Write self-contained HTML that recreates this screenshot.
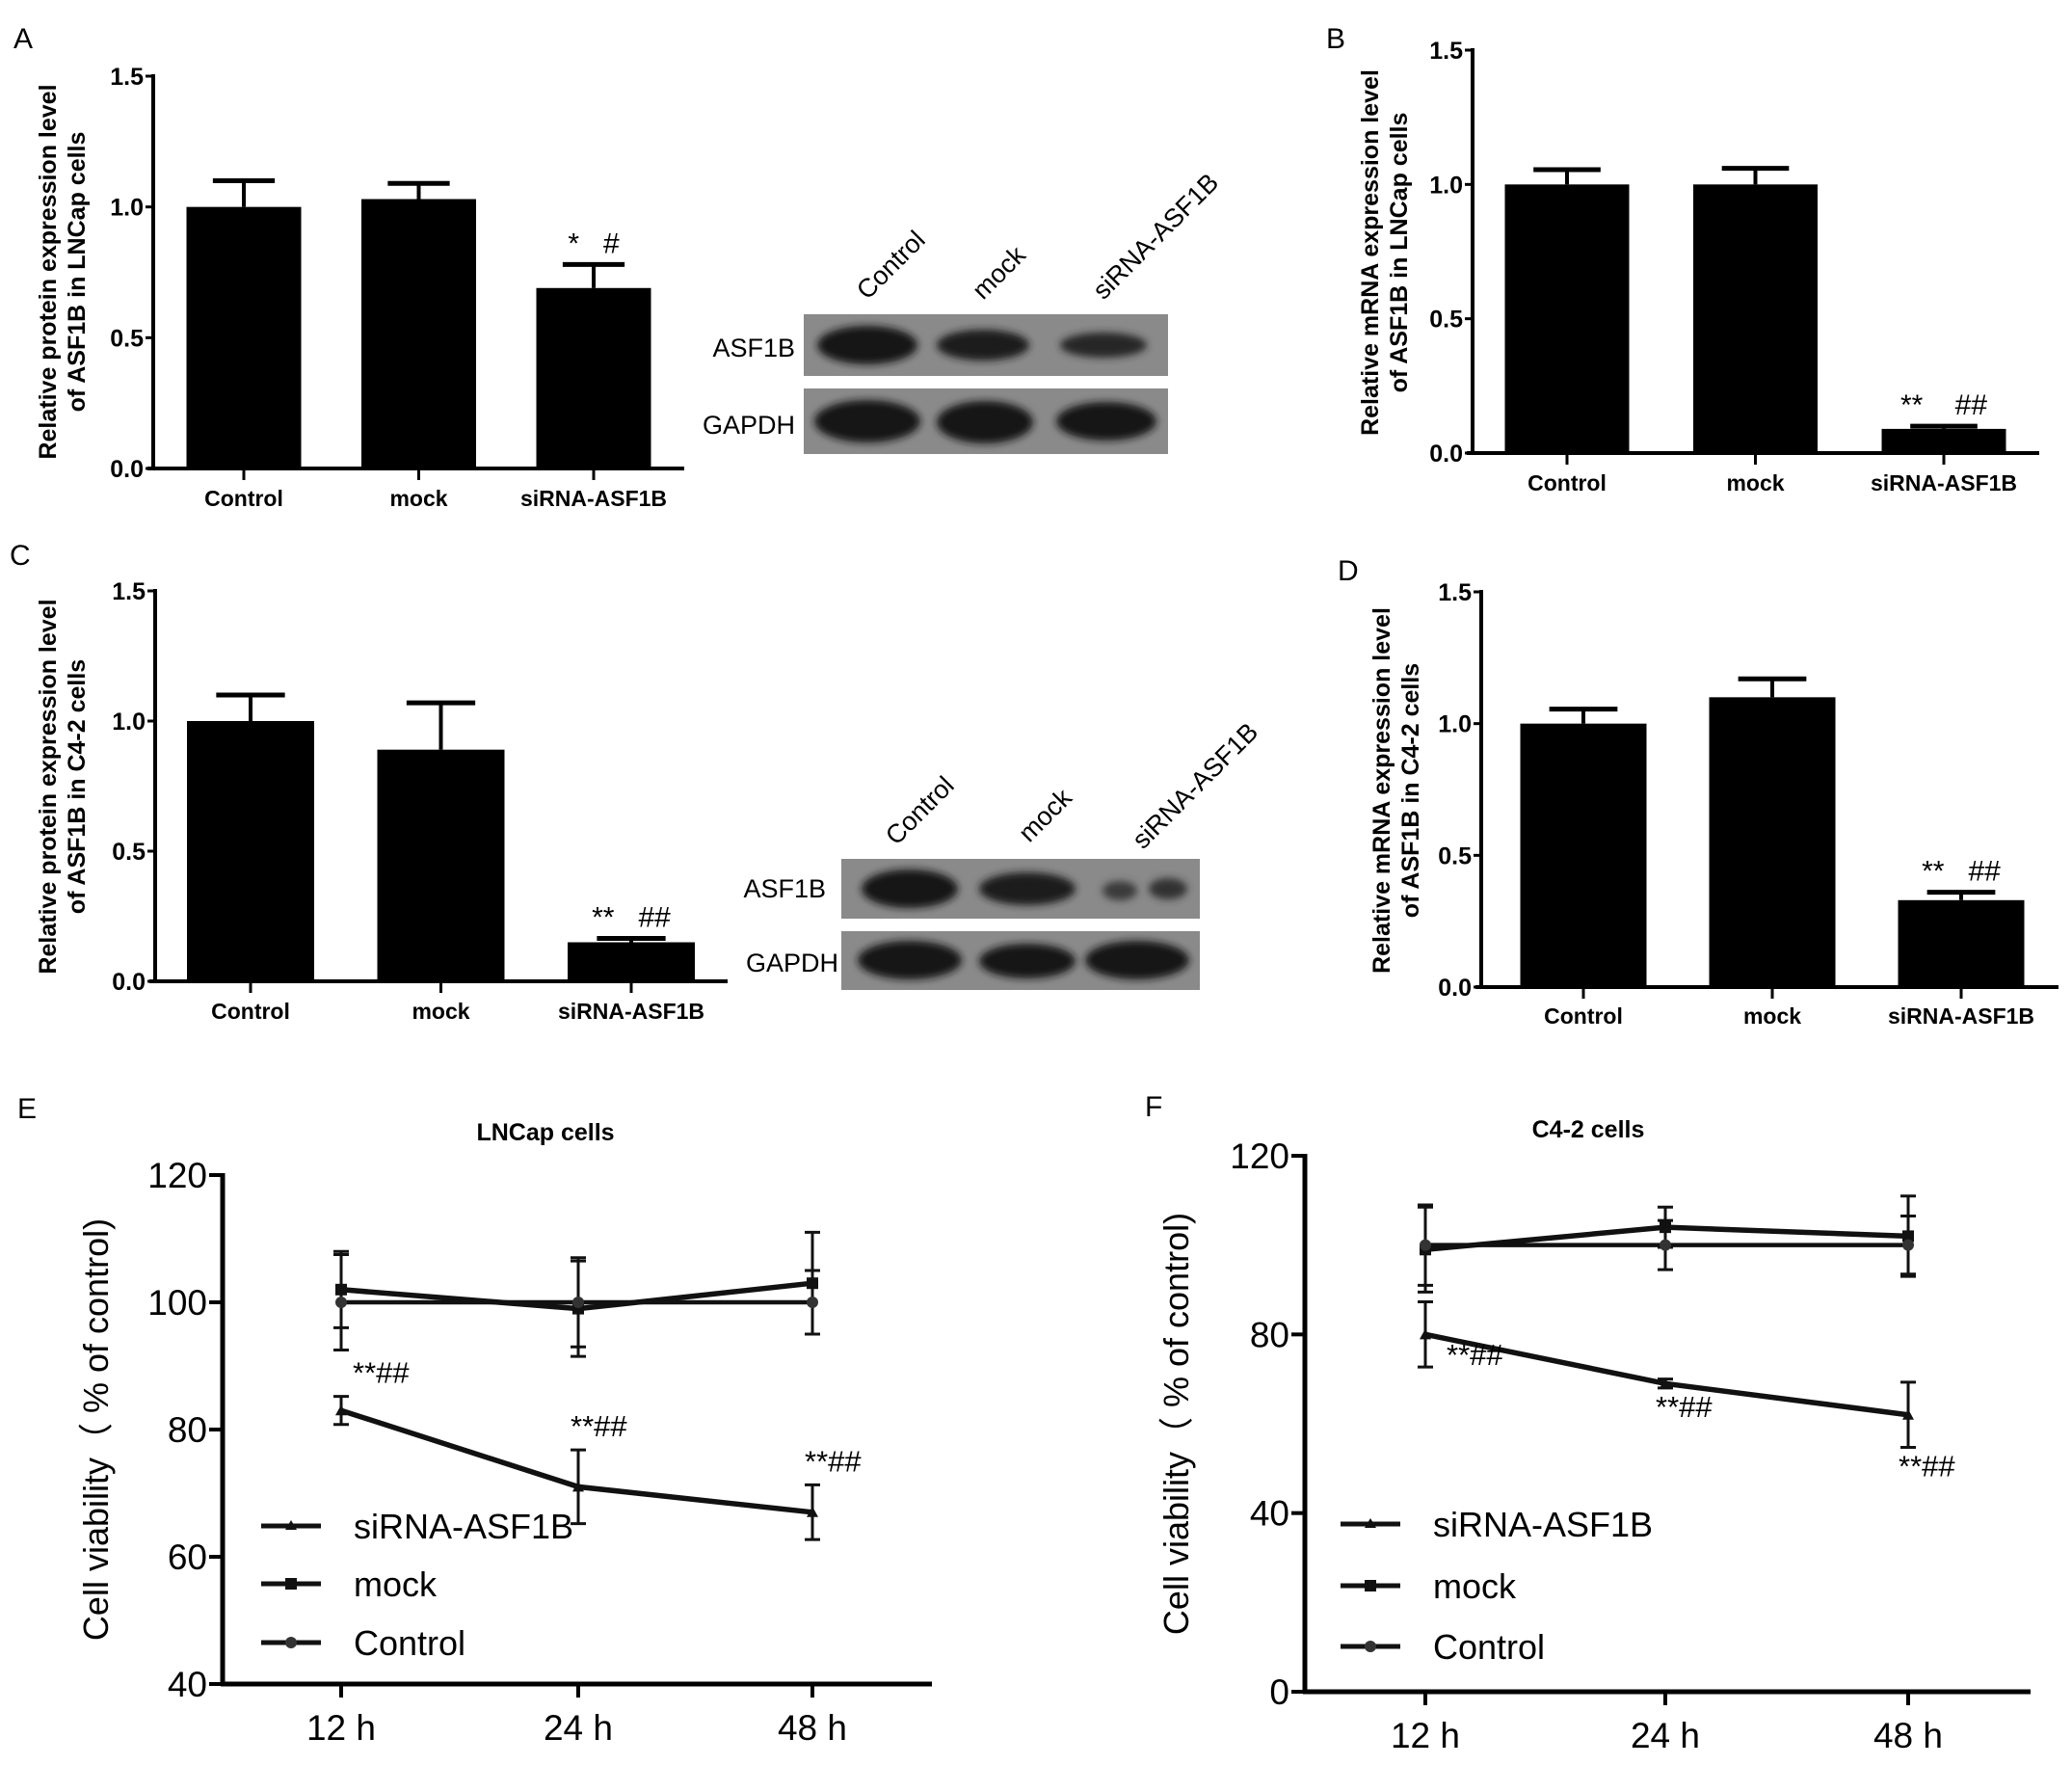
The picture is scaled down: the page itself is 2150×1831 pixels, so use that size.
<!DOCTYPE html>
<html><head><meta charset="utf-8"><style>
html,body{margin:0;padding:0;background:#fff}
svg{display:block}
text{font-family:"Liberation Sans",Arial,sans-serif}
</style></head><body>
<svg id="fig" width="2150" height="1831" viewBox="0 0 2150 1831" xmlns="http://www.w3.org/2000/svg">
<defs><filter id="blur" x="-20%" y="-50%" width="140%" height="200%"><feGaussianBlur stdDeviation="4"/></filter></defs>
<rect width="2150" height="1831" fill="#fff"/>
<text x="14" y="50" font-size="30">A</text>
<text x="1376" y="50" font-size="30">B</text>
<text x="10" y="586" font-size="30">C</text>
<text x="1388" y="602" font-size="30">D</text>
<text x="18" y="1160" font-size="30">E</text>
<text x="1188" y="1158" font-size="30">F</text>

<!-- Western blot A -->
<g>
<rect x="834" y="326" width="378" height="64" fill="#8a8a8a"/>
<rect x="834" y="403" width="378" height="68" fill="#8a8a8a"/>
<g filter="url(#blur)">
<ellipse cx="900" cy="358" rx="52" ry="20" fill="#151515"/>
<ellipse cx="1020" cy="358" rx="48" ry="16" fill="#1a1a1a"/>
<ellipse cx="1145" cy="358" rx="45" ry="13" fill="#262626"/>
<ellipse cx="900" cy="437" rx="55" ry="22" fill="#121212"/>
<ellipse cx="1022" cy="438" rx="50" ry="22" fill="#141414"/>
<ellipse cx="1148" cy="437" rx="52" ry="20" fill="#161616"/>
</g>
<text x="825" y="370" font-size="27" text-anchor="end">ASF1B</text>
<text x="825" y="450" font-size="27" text-anchor="end">GAPDH</text>
<text transform="translate(900,312) rotate(-45)" font-size="27">Control</text>
<text transform="translate(1020,312) rotate(-45)" font-size="27">mock</text>
<text transform="translate(1145,312) rotate(-45)" font-size="27">siRNA-ASF1B</text>
</g>
<!-- Western blot C -->
<g>
<rect x="873" y="891" width="372" height="62" fill="#8a8a8a"/>
<rect x="873" y="966" width="372" height="61" fill="#8a8a8a"/>
<g filter="url(#blur)">
<ellipse cx="944" cy="922" rx="50" ry="20" fill="#151515"/>
<ellipse cx="1066" cy="922" rx="50" ry="17" fill="#1e1e1e"/>
<ellipse cx="1162" cy="924" rx="18" ry="10" fill="#3a3a3a"/>
<ellipse cx="1212" cy="922" rx="20" ry="11" fill="#333"/>
<ellipse cx="944" cy="996" rx="54" ry="20" fill="#121212"/>
<ellipse cx="1066" cy="997" rx="50" ry="18" fill="#151515"/>
<ellipse cx="1180" cy="996" rx="54" ry="20" fill="#141414"/>
</g>
<text x="857" y="931" font-size="27" text-anchor="end">ASF1B</text>
<text x="870" y="1008" font-size="27" text-anchor="end">GAPDH</text>
<text transform="translate(930,878) rotate(-45)" font-size="27">Control</text>
<text transform="translate(1068,875) rotate(-45)" font-size="27">mock</text>
<text transform="translate(1186,882) rotate(-45)" font-size="27">siRNA-ASF1B</text>
</g>
</svg>
<script>
// ---- bar data ----
const barCategories = ["Control","mock","siRNA-ASF1B"];
const barTicks = [0.0,0.5,1.0,1.5];
const valuesA = [1.0,1.03,0.69];
const errorsA = [0.10,0.06,0.09];
const valuesB = [1.0,1.0,0.09];
const errorsB = [0.055,0.06,0.01];
const valuesC = [1.0,0.89,0.15];
const errorsC = [0.10,0.18,0.015];
const valuesD = [1.0,1.10,0.33];
const errorsD = [0.055,0.07,0.03];
const sigA = ["","","*   #"];
const sigB = ["","","**    ##"];
const sigC = ["","","**   ##"];
const sigD = ["","","**   ##"];
// ---- line data ----
const timeLabels = ["12 h","24 h","48 h"];
const ticksE = [40,60,80,100,120];
const ticksF = [0,40,80,120];
const seriesNames = ["siRNA-ASF1B","mock","Control"];
const sirnaE = [83,71,67];
const sirnaErrE = [2.2,5.8,4.3];
const mockE = [102,99,103];
const mockErrE = [6,7.5,8];
const controlE = [100,100,100];
const controlErrE = [7.5,7,5];
const sirnaF = [80,69,62];
const sirnaErrF = [7.3,1,7.3];
const mockF = [99,104,102];
const mockErrF = [9.5,4.5,9];
const controlF = [100,100,100];
const controlErrF = [9,5.5,6.5];
const sigE = ["**##","**##","**##"];

const NS="http://www.w3.org/2000/svg";
const svg=document.getElementById('fig');
function mk(tag,attrs,parent){const e=document.createElementNS(NS,tag);for(const k in attrs)e.setAttribute(k,attrs[k]);(parent||svg).appendChild(e);return e;}

function barChart(cfg,values,errors,sig){
  const g=mk('g',{});
  
  
  const y=v=>cfg.y0+(cfg.y1-cfg.y0)*(v/1.5);
  const bw=cfg.bw;
  const cx=i=>cfg.c0+i*cfg.step;
  values.forEach((v,i)=>{
    const top=y(v+errors[i]);
    const l=mk('line',{x1:cx(i),x2:cx(i),y1:y(v),y2:top,stroke:'#000','stroke-width':4},g);
    
    
    const c=mk('line',{x1:cx(i)-bw*0.27,x2:cx(i)+bw*0.27,y1:top,y2:top,stroke:'#000','stroke-width':5},g);
    
    
    const r=mk('rect',{x:cx(i)-bw/2,y:y(v),width:bw,height:cfg.y0-y(v),fill:'#000'},g);
    
    
    if(sig[i]){const t=mk('text',{x:cx(i),y:top-12,'font-size':30,'text-anchor':'middle','xml:space':'preserve'},g);t.textContent=sig[i];
      t.style.whiteSpace='pre';
      
      }
    const tk=mk('line',{x1:cx(i),x2:cx(i),y1:cfg.y0,y2:cfg.y0+12,stroke:'#000','stroke-width':3},g);
    
    
    const lb=mk('text',{x:cx(i),y:cfg.ly,'font-size':23,'font-weight':'bold','text-anchor':'middle'},g);
    lb.textContent=barCategories[i];
    
    
  });
  const ax=mk('line',{x1:cfg.ax,x2:cfg.ax,y1:cfg.y1-2,y2:cfg.y0+2,stroke:'#000','stroke-width':4},g);
  
  
  const xx=mk('line',{x1:cfg.ax-6,x2:cfg.xe,y1:cfg.y0,y2:cfg.y0,stroke:'#000','stroke-width':4},g);
  
  
  barTicks.forEach(t=>{
    mk('line',{x1:cfg.ax-8,x2:cfg.ax,y1:y(t),y2:y(t),stroke:'#000','stroke-width':3},g);
    const tl=mk('text',{x:cfg.ax-10,y:y(t)+9,'font-size':25,'font-weight':'bold','text-anchor':'end','font-family':'"Liberation Sans Narrow","Liberation Sans",sans-serif'},g);
    tl.textContent=t.toFixed(1);
    
    
  });
  cfg.title.forEach((s,k)=>{
    const tt=mk('text',{transform:`translate(${cfg.tx+k*30},${cfg.ty}) rotate(-90)`,'font-size':25,'font-weight':'bold','text-anchor':'middle'},g);
    tt.textContent=s;
    
    
  });
}
barChart({name:'chart-a',ax:159,xe:710,y0:486,y1:79,c0:253,step:181.5,bw:119,ly:525,tx:58,ty:282,title:["Relative protein expression level","of ASF1B in LNCap cells"]},valuesA,errorsA,sigA);
barChart({name:'chart-b',ax:1528,xe:2116,y0:470,y1:52,c0:1626,step:195.5,bw:129,ly:509,tx:1430,ty:262,title:["Relative mRNA expression level","of ASF1B in LNCap cells"]},valuesB,errorsB,sigB);
barChart({name:'chart-c',ax:161,xe:755,y0:1018,y1:613,c0:260,step:197.5,bw:132,ly:1057,tx:58,ty:816,title:["Relative protein expression level","of ASF1B in C4-2 cells"]},valuesC,errorsC,sigC);
barChart({name:'chart-d',ax:1537,xe:2136,y0:1024,y1:614,c0:1643,step:196,bw:131,ly:1062,tx:1442,ty:820,title:["Relative mRNA expression level","of ASF1B in C4-2 cells"]},valuesD,errorsD,sigD);

function lineChart(cfg,series,errs,ticks,sigBelow){
  const g=mk('g',{});
  
  
  const y=v=>cfg.y0+(cfg.y1-cfg.y0)*(v-cfg.min)/(cfg.max-cfg.min);
  const xp=i=>cfg.xs[i];
  const ax=mk('line',{x1:cfg.ax,x2:cfg.ax,y1:cfg.y1-2,y2:cfg.y0+2,stroke:'#000','stroke-width':5},g);
  
  
  const xx=mk('line',{x1:cfg.ax-2,x2:cfg.xe,y1:cfg.y0,y2:cfg.y0,stroke:'#000','stroke-width':5},g);
  
  
  ticks.forEach(t=>{
    mk('line',{x1:cfg.ax-14,x2:cfg.ax,y1:y(t),y2:y(t),stroke:'#000','stroke-width':4},g);
    const tl=mk('text',{x:cfg.ax-16,y:y(t)+13,'font-size':37,'text-anchor':'end'},g);
    tl.textContent=t;
    
    
  });
  timeLabels.forEach((s,i)=>{
    mk('line',{x1:xp(i),x2:xp(i),y1:cfg.y0,y2:cfg.y0+14,stroke:'#000','stroke-width':4},g);
    const tl=mk('text',{x:xp(i),y:cfg.y0+58,'font-size':37,'text-anchor':'middle'},g);
    tl.textContent=s;
    
    
  });
  series.forEach((vals,si)=>{
    const pts=vals.map((v,i)=>xp(i)+','+y(v)).join(' ');
    const pl=mk('polyline',{points:pts,fill:'none',stroke:'#111','stroke-width':si===2?4.5:5.5},g);
    
    
    vals.forEach((v,i)=>{
      const e=errs[si][i];
      const eb=mk('path',{d:`M${xp(i)},${y(v+e)}V${y(v-e)}M${xp(i)-8},${y(v+e)}h16M${xp(i)-8},${y(v-e)}h16`,stroke:'#111','stroke-width':3,fill:'none'},g);
      
      
      const m=si===1?mk('rect',{x:xp(i)-6,y:y(v)-6,width:12,height:12,fill:'#111'},g):si===2?mk('circle',{cx:xp(i),cy:y(v),r:6,fill:'#333'},g):mk('path',{d:`M${xp(i)-6},${y(v)+5}L${xp(i)},${y(v)-6}L${xp(i)+6},${y(v)+5}Z`,fill:'#111'},g);
      
      
    });
  });
  series[0].forEach((v,i)=>{
    const e=errs[0][i];
    const t=mk('text',{x:xp(i)+(sigBelow?(i===0?22:-10):(i===0?12:-8)),y:sigBelow?y(v-e)+(i===0?-2:30):y(v+e)-14,'font-size':31},g);
    t.textContent=sigE[i];
    
    
  });
  seriesNames.forEach((s,k)=>{
    const ly=cfg.legY[k];
    mk('line',{x1:cfg.legX,x2:cfg.legX+62,y1:ly,y2:ly,stroke:'#111','stroke-width':5},g);
    if(k===1)mk('rect',{x:cfg.legX+25,y:ly-6,width:12,height:12,fill:'#111'},g);
    if(k===2)mk('circle',{cx:cfg.legX+31,cy:ly,r:6,fill:'#333'},g);
    if(k===0)mk('path',{d:`M${cfg.legX+25},${ly+4}L${cfg.legX+31},${ly-6}L${cfg.legX+37},${ly+4}Z`,fill:'#111'},g);
    const t=mk('text',{x:cfg.legX+96,y:ly+13,'font-size':36},g);
    t.textContent=s;
    
    
  });
  const ti=mk('text',{x:cfg.titleX,y:cfg.titleY,'font-size':25,'font-weight':'bold','text-anchor':'middle'},g);
  ti.textContent=cfg.title;
  
  
  const yt=mk('text',{transform:`translate(${cfg.ytx},${(cfg.y0+cfg.y1)/2}) rotate(-90)`,'font-size':36,'text-anchor':'middle'},g);
  yt.textContent='Cell viability（ % of control)';
  
  
}
lineChart({name:'chart-e',ax:231,xe:967,y0:1747,y1:1219,min:40,max:120,xs:[354,600,843],legX:271,legY:[1583,1643,1704],titleX:566,titleY:1183,title:'LNCap cells',ytx:112},
  [sirnaE,mockE,controlE],[sirnaErrE,mockErrE,controlErrE],ticksE,false);
lineChart({name:'chart-f',ax:1354,xe:2107,y0:1755,y1:1199,min:0,max:120,xs:[1479,1728,1980],legX:1391,legY:[1581,1645,1708],titleX:1648,titleY:1180,title:'C4-2 cells',ytx:1233},
  [sirnaF,mockF,controlF],[sirnaErrF,mockErrF,controlErrF],ticksF,true);
</script>
</body></html>
